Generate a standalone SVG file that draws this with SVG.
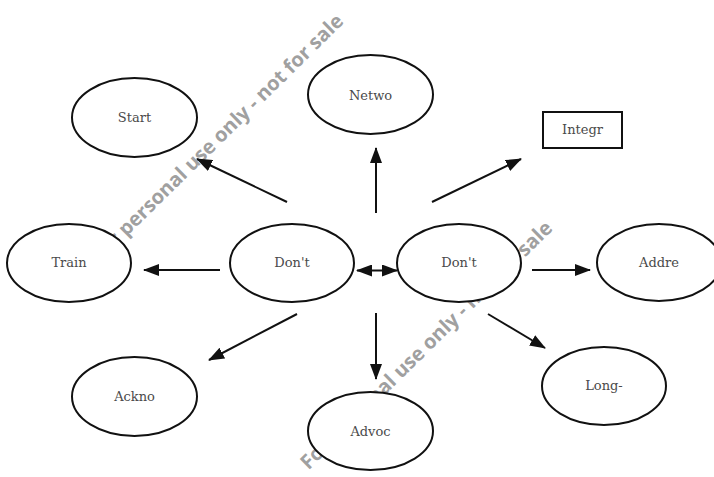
<svg xmlns="http://www.w3.org/2000/svg" width="714" height="477" viewBox="0 0 714 477">
<style>
.wm{font-family:"Open Sans","DejaVu Sans",sans-serif;font-weight:700;font-size:20px;fill:#a0a0a0}
.n ellipse,.n rect{fill:#fff;stroke:#111;stroke-width:2}
.n text{font-family:"DejaVu Serif","Liberation Serif",serif;font-size:13px;fill:#4a4a4a;text-anchor:middle}
.c line{stroke:#111;stroke-width:2}
</style>
<defs>
<marker id="ah" viewBox="0 0 16 12" refX="15" refY="6" markerWidth="16" markerHeight="12" markerUnits="userSpaceOnUse" orient="auto-start-reverse">
<path d="M0,0 L16,6 L0,12 Z" fill="#111"/>
</marker>
</defs>
<rect width="714" height="477" fill="#fff"/>
<g id="watermarks">
<text class="wm" text-anchor="middle" transform="translate(222,143) rotate(-44.5)">For personal use only - not for sale</text>
<text class="wm" text-anchor="middle" transform="translate(431,350) rotate(-44.5)">For personal use only - not for sale</text>
</g>
<g id="connectors" class="c">
<line x1="287" y1="202" x2="197" y2="159" marker-end="url(#ah)"/>
<line x1="376" y1="213" x2="376" y2="148" marker-end="url(#ah)"/>
<line x1="432" y1="202" x2="521" y2="159" marker-end="url(#ah)"/>
<line x1="220" y1="270" x2="144" y2="270" marker-end="url(#ah)"/>
<line x1="357" y1="270.5" x2="397" y2="270.5" marker-start="url(#ah)" marker-end="url(#ah)"/>
<line x1="532" y1="270" x2="590" y2="270" marker-end="url(#ah)"/>
<line x1="297" y1="314" x2="209" y2="360" marker-end="url(#ah)"/>
<line x1="376" y1="313" x2="376" y2="379" marker-end="url(#ah)"/>
<line x1="488" y1="314" x2="545" y2="348" marker-end="url(#ah)"/>
</g>
<g id="start" class="n"><ellipse cx="134.5" cy="117.5" rx="62.5" ry="39.5"/><text x="134.5" y="122">Start</text></g>
<g id="netwo" class="n"><ellipse cx="370.5" cy="94.5" rx="62.5" ry="39.5"/><text x="370.5" y="100">Netwo</text></g>
<g id="integr" class="n"><rect x="543" y="112" width="79" height="36"/><text x="582.5" y="134">Integr</text></g>
<g id="train" class="n"><ellipse cx="69" cy="263" rx="62" ry="39"/><text x="69" y="267">Train</text></g>
<g id="dont1" class="n"><ellipse cx="292" cy="263" rx="62" ry="39"/><text x="292" y="267">Don't</text></g>
<g id="dont2" class="n"><ellipse cx="459" cy="263" rx="62" ry="39"/><text x="459" y="267">Don't</text></g>
<g id="addre" class="n"><ellipse cx="659" cy="262.5" rx="62" ry="38.5"/><text x="659" y="267">Addre</text></g>
<g id="ackno" class="n"><ellipse cx="134.5" cy="396.5" rx="62.5" ry="39.5"/><text x="134.5" y="401">Ackno</text></g>
<g id="advoc" class="n"><ellipse cx="370.5" cy="431" rx="62.5" ry="39"/><text x="370.5" y="436">Advoc</text></g>
<g id="long" class="n"><ellipse cx="604" cy="386" rx="62" ry="39"/><text x="604" y="390">Long-</text></g>
</svg>
